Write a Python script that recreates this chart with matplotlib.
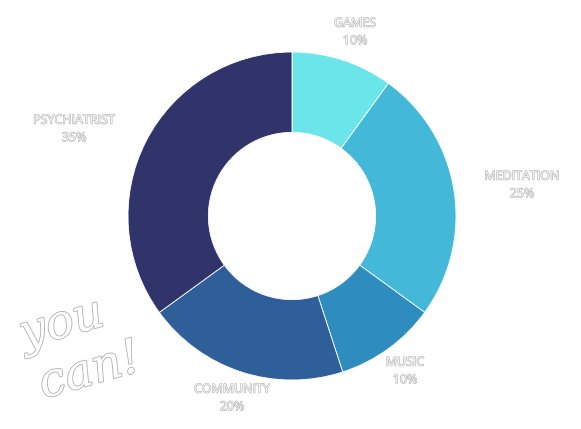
"""Donut chart of coping strategies with outlined labels."""

import matplotlib

matplotlib.use("Agg")

import matplotlib.pyplot as plt
import matplotlib.patheffects as pe

categories = ["GAMES", "MEDITATION", "MUSIC", "COMMUNITY", "PSYCHIATRIST"]
shares = [10, 25, 10, 20, 35]
colors = ["#6AE6EA", "#43B8D8", "#2E8DBE", "#2E5F99", "#30346B"]

# label anchor points (pixel coords of the picture, top-left origin)
label_pos = [(355, 32), (522, 185), (405, 371), (232, 398), (74, 129)]

W, H = 581, 429
fig = plt.figure(figsize=(W / 100, H / 100), dpi=100)
cx, cy, r = 292, 216, 164
ax = fig.add_axes([(cx - r) / W, (H - cy - r) / H, 2 * r / W, 2 * r / H])

ax.pie(
    shares,
    colors=colors,
    startangle=90,
    counterclock=False,
    radius=1.0,
    wedgeprops={"width": 0.49, "edgecolor": "white", "linewidth": 0.6},
)
ax.set_xlim(-1, 1)
ax.set_ylim(-1, 1)
ax.set_aspect("equal")
ax.axis("off")

outline = [pe.withStroke(linewidth=0.8, foreground="#b4b4b4")]
for name, share, (px, py) in zip(categories, shares, label_pos):
    fig.text(
        px / W,
        1 - py / H,
        f"{name}\n{share}%",
        ha="center",
        va="center",
        fontsize=9,
        color="#f4f4f4",
        family="Open Sans",
        linespacing=1.45,
        path_effects=outline,
    )

hand = [pe.withStroke(linewidth=1.2, foreground="#b0b0b0")]
fig.text(62 / W, 1 - 325 / H, "you", fontsize=34, style="italic",
         rotation=16, ha="center", va="center", color="white",
         family="DejaVu Serif", path_effects=hand)
fig.text(90 / W, 1 - 372 / H, "can!", fontsize=34, style="italic",
         rotation=16, ha="center", va="center", color="white",
         family="DejaVu Serif", path_effects=hand)

fig.savefig("out.png", dpi=100)
